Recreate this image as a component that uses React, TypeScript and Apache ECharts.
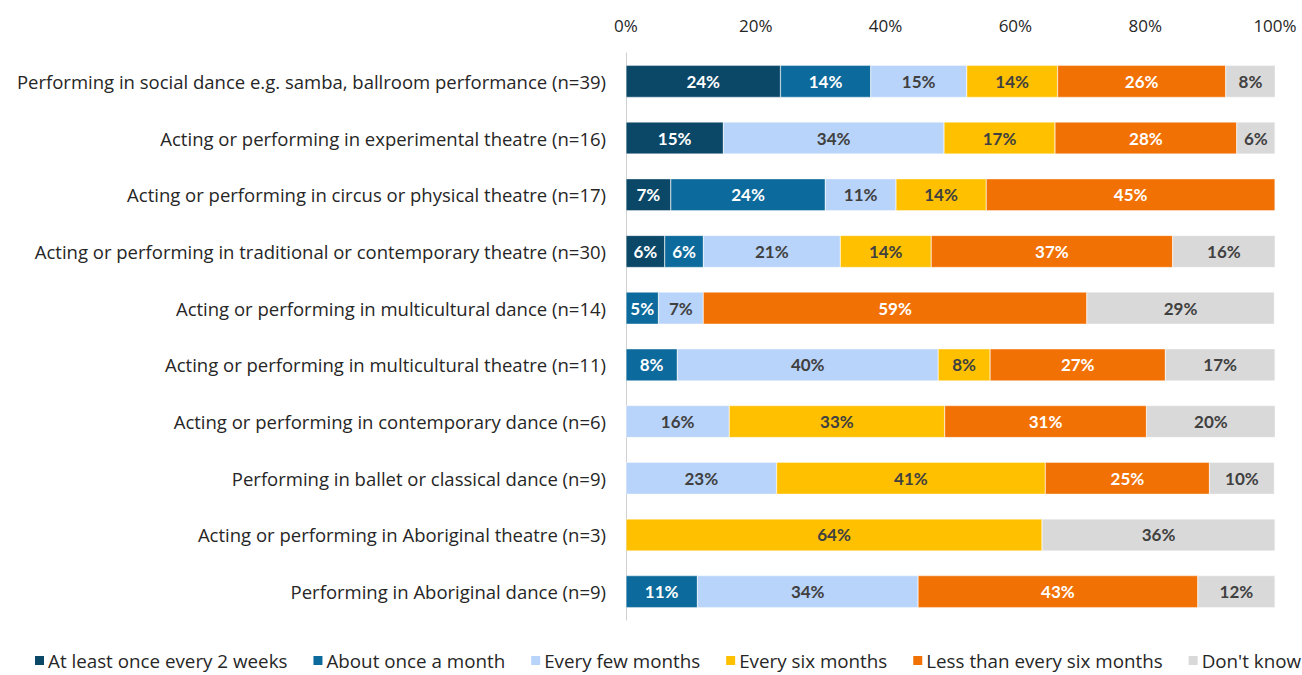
import React, { useEffect, useRef } from "react";
import * as echarts from "echarts";

const categories = [
  "Performing in social dance e.g. samba, ballroom performance (n=39)",
  "Acting or performing in experimental theatre (n=16)",
  "Acting or performing in circus or physical theatre (n=17)",
  "Acting or performing in traditional or contemporary theatre (n=30)",
  "Acting or performing in multicultural dance (n=14)",
  "Acting or performing in multicultural theatre (n=11)",
  "Acting or performing in contemporary dance (n=6)",
  "Performing in ballet or classical dance (n=9)",
  "Acting or performing in Aboriginal theatre (n=3)",
  "Performing in Aboriginal dance (n=9)",
];

const seriesNames = [
  "At least once every 2 weeks",
  "About once a month",
  "Every few months",
  "Every six months",
  "Less than every six months",
  "Don't know",
];

const atLeastFortnightly = [23.8, 15.0, 6.9, 5.96, null, null, null, null, null, null];
const aboutMonthly = [13.9, null, 23.8, 5.96, 5.0, 7.9, null, null, null, 11.0];
const everyFewMonths = [14.8, 34.0, 10.9, 21.1, 6.9, 40.2, 15.9, 23.2, null, 34.0];
const everySixMonths = [14.0, 17.1, 13.9, 14.0, null, 8.0, 33.2, 41.4, 64.1, null];
const lessThanSixMonths = [25.9, 28.0, 44.5, 37.2, 59.1, 27.0, 31.1, 25.3, null, 43.1];
const dontKnow = [7.8, 5.9, null, 15.8, 28.9, 16.9, 19.9, 10.0, 35.9, 11.9];

const seriesData = [
  atLeastFortnightly,
  aboutMonthly,
  everyFewMonths,
  everySixMonths,
  lessThanSixMonths,
  dontKnow,
];

const colors = ["#0b4868", "#0c6a9c", "#b8d4fa", "#ffc000", "#f27104", "#d9d9d9"];
const labelColors = ["#ffffff", "#ffffff", "#404040", "#404040", "#ffffff", "#404040"];

const xTicks = [0, 20, 40, 60, 80, 100];

const FONT = "'Open Sans', 'Noto Sans', sans-serif";
const LABEL_FONT = "Lato, 'Noto Sans', sans-serif";

export default function App() {
  const ref = useRef<HTMLDivElement>(null);

  useEffect(() => {
    if (!ref.current) return;
    const chart = echarts.init(ref.current, undefined, { renderer: "svg" });
    chart.setOption({
      animation: false,
      backgroundColor: "#ffffff",
      textStyle: { fontFamily: FONT },
      grid: { left: 626, right: 27, top: 53, bottom: 55, containLabel: false },
      legend: {
        top: 650,
        left: 33,
        padding: 0,
        itemWidth: 11,
        itemHeight: 11,
        itemGap: 24,
        icon: "rect",
        textStyle: {
          fontFamily: FONT,
          fontSize: 18.8,
          lineHeight: 21,
          color: "#262626",
          padding: [0, 0, 0, -2],
        },
        data: seriesNames,
      },
      xAxis: {
        type: "value",
        position: "top",
        min: xTicks[0],
        max: xTicks[xTicks.length - 1],
        interval: 20,
        axisLine: { show: false },
        axisTick: { show: false },
        splitLine: { show: false },
        axisLabel: {
          formatter: (v: number) => v + "%",
          fontFamily: FONT,
          fontSize: 17,
          color: "#262626",
          margin: 19,
        },
      },
      yAxis: {
        type: "category",
        inverse: true,
        data: categories,
        axisLine: { show: true, lineStyle: { color: "#d0d0d0", width: 1 } },
        axisTick: { show: false },
        axisLabel: {
          fontFamily: FONT,
          fontSize: 18.5,
          color: "#262626",
          margin: 20,
        },
      },
      series: seriesNames.map((name, i) => ({
        name,
        type: "bar",
        stack: "total",
        barWidth: 32,
        data: seriesData[i],
        itemStyle: { color: colors[i], borderColor: "#ffffff", borderWidth: 0.4 },
        label: {
          show: true,
          position: "inside",
          formatter: (p: any) => (p.value == null ? "" : Math.round(p.value) + "%"),
          fontFamily: LABEL_FONT,
          fontSize: 17,
          fontWeight: "bold",
          color: labelColors[i],
        },
      })),
    });
    return () => chart.dispose();
  }, []);

  return (
    <div
      ref={ref}
      style={{ position: "fixed", left: 0, top: 0, width: 1302, height: 675 }}
    />
  );
}
